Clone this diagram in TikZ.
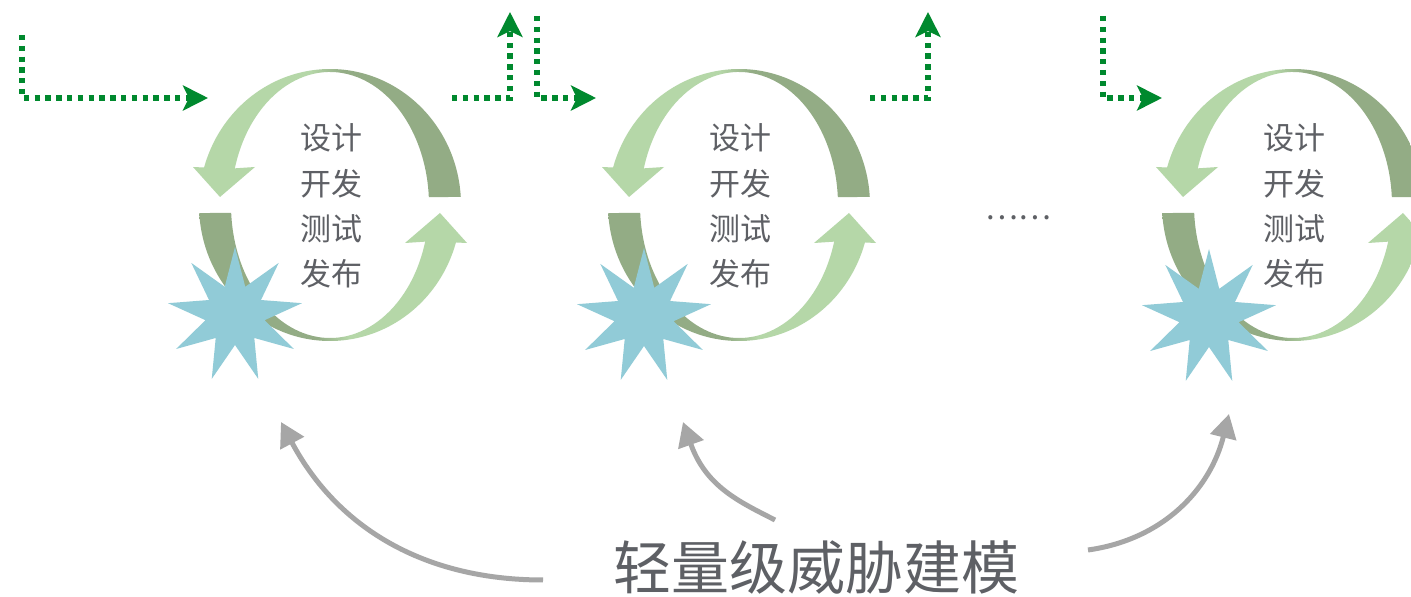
\documentclass[tikz,border=0pt]{standalone}
\usepackage{fontspec}
\newfontfamily\cjk{Noto Sans CJK SC}
\usetikzlibrary{arrows.meta}
\definecolor{lightg}{RGB}{181,215,168}
\definecolor{darkg}{RGB}{147,172,133}
\definecolor{starblue}{RGB}{145,203,215}
\definecolor{dotgreen}{RGB}{0,137,46}
\definecolor{arrgray}{RGB}{166,166,166}
\definecolor{txtgray}{RGB}{94,96,101}
\pgfdeclarehorizontalshading{ringUp}{100bp}{color(0bp)=(lightg); color(47bp)=(lightg); color(53bp)=(darkg); color(100bp)=(darkg)}
\pgfdeclarehorizontalshading{ringDown}{100bp}{color(0bp)=(darkg); color(47bp)=(darkg); color(53bp)=(lightg); color(100bp)=(lightg)}
\newcommand\mycycle[2]{%
  \begin{scope}[shift={(#1,#2)}]
    \shade[shading=ringUp] (3.4:131 and 136) arc[start angle=3.4,end angle=164,x radius=131,y radius=136]
      -- (-137,38) -- (-110,8) -- (-75,38) -- (164:99 and 133)
      arc[start angle=164,end angle=3.4,x radius=99,y radius=133] -- cycle;
    \shade[shading=ringDown] (183.4:131 and 136) arc[start angle=183.4,end angle=344,x radius=131,y radius=136]
      -- (137,-38) -- (110,-8) -- (75,-38) -- (344:99 and 133)
      arc[start angle=344,end angle=183.4,x radius=99,y radius=133] -- cycle;
  \end{scope}}
\newcommand\mystar[2]{%
  \fill[starblue,shift={(#1,#2)}] (90:68) \foreach \k in {1,...,8}{ -- ({70+40*\k}:30) -- ({90+40*\k}:68)} -- (70:30) -- cycle;}
\begin{document}
\begin{tikzpicture}[x=1pt,y=1pt,
  cyctext/.style={font=\cjk\fontsize{31}{45.3}\selectfont, text=txtgray, align=center, inner sep=0pt},
  titletext/.style={font=\cjk\fontsize{58}{62}\selectfont, text=txtgray, inner sep=0pt},
  gdot/.style={draw=dotgreen, line width=5.3pt, dash pattern=on 5.3pt off 5.5pt, -{Stealth[length=25pt,width=25pt,inset=6pt]}},
  garr/.style={draw=arrgray, line width=5pt, -{Triangle[length=24pt,width=26pt]}}]
\useasboundingbox (0,0) rectangle (1411,597);
\clip (0,0) rectangle (1411,597);
\fill[white] (0,0) rectangle (1411,597);
% cycles
\mycycle{330}{392}
\mycycle{739}{392}
\mycycle{1293}{392}
% stars
\mystar{235}{282}
\mystar{644}{281}
\mystar{1209}{280}
% texts
\node[cyctext] (t1) at (331,391) {设计\\开发\\测试\\发布};
\node[cyctext] (t2) at (740,391) {设计\\开发\\测试\\发布};
\node[cyctext] (t3) at (1294,391) {设计\\开发\\测试\\发布};
\node[cyctext] (dots) at (1018,379) {……};
\node[titletext] (title) at (816,29) {轻量级威胁建模};
% green dotted arrows
\coordinate (a0) at (22,562); \coordinate (a1) at (22,499); \coordinate (a2) at (208,499);
\coordinate (b0) at (452,499); \coordinate (b1) at (510,499); \coordinate (b2) at (510,585);
\coordinate (c0) at (537,581); \coordinate (c1) at (537,499); \coordinate (c2) at (596,499);
\coordinate (d0) at (870,499); \coordinate (d1) at (928,499); \coordinate (d2) at (928,585);
\coordinate (e0) at (1103,581); \coordinate (e1) at (1103,499); \coordinate (e2) at (1162,499);
\draw[gdot] (a0) -- (a1) -- (a2);
\draw[gdot] (b0) -- (b1) -- (b2);
\draw[gdot] (c0) -- (c1) -- (c2);
\draw[gdot] (d0) -- (d1) -- (d2);
\draw[gdot] (e0) -- (e1) -- (e2);
% gray curved arrows
\coordinate (g1s) at (543,17); \coordinate (g1e) at (281,175);
\coordinate (g2s) at (775,77); \coordinate (g2e) at (683,175);
\coordinate (g3s) at (1088,47); \coordinate (g3e) at (1229,183);
\draw[garr] (g1s) to[out=180,in=-62] (g1e);
\draw[garr] (g2s) .. controls (740,95) and (706,110) .. (g2e);
\draw[garr] (g3s) to[out=8,in=-104] (g3e);
\end{tikzpicture}
\end{document}
